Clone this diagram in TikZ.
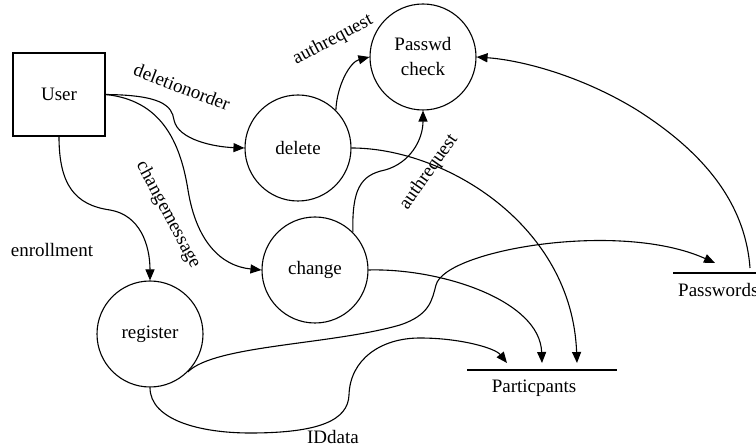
\documentclass[tikz,border=0pt]{standalone}
\usepackage{fontspec}
\setmainfont{Liberation Serif}
\usetikzlibrary{arrows.meta}
\begin{document}
\begin{tikzpicture}[x=1pt,y=-1pt,
  every node/.style={font=\fontsize{19}{25}\selectfont},
  proc/.style={draw, circle, minimum size=106pt, inner sep=0pt, line width=1.1pt},
  ent/.style={draw, rectangle, minimum width=92pt, minimum height=83pt, line width=1.1pt},
  flow/.style={line width=1.1pt, -{Triangle[length=11pt,width=9pt]}},
  store/.style={line width=1.1pt},
  lbl/.style={inner sep=1pt}]
\useasboundingbox (0,0) rectangle (756,446);
% nodes
\node[ent] (user) at (59,94.5) {User};
\node[proc] (delete) at (298,148) {delete};
\node[proc,align=center] (check) at (423,57) {Passwd\\check};
\node[proc] (change) at (315,270) {change};
\node[proc] (register) at (150,334) {register};
% data stores
\coordinate (partL) at (467,370);
\coordinate (partR) at (617,370);
\draw[store] (partL) -- (partR);
\node[lbl] (partlbl) at (534,388) {Particpants};
\coordinate (pwL) at (673,273);
\coordinate (pwR) at (760,273);
\draw[store] (pwL) -- (pwR);
\node[lbl,anchor=west] (pwlbl) at (677,290) {Passwords};
% free ends
\coordinate (p1) at (507,363);
\coordinate (p2) at (542,363);
\coordinate (p3) at (577,363);
\coordinate (pwin) at (715,263);
\coordinate (pwout) at (750,268);
% flows
\draw[flow] (user.east) .. controls (160,95) and (172,105) .. (174,120) .. controls (178,140) and (215,147) .. (delete.west);
\draw[flow] (user.east) .. controls (160,100) and (180,140) .. (188,190) .. controls (196,240) and (220,266) .. (change.west);
\draw[flow] (user.south) .. controls (59,185) and (75,205) .. (110,210) .. controls (140,215) and (150,245) .. (register.north);
\draw[flow] (delete.45) .. controls (337,85) and (350,62) .. (check.west);
\draw[flow] (change.45) .. controls (352,190) and (360,175) .. (385,170) .. controls (410,163) and (423,140) .. (check.south);
\draw[flow] (delete.east) .. controls (445,148) and (572,225) .. (p3);
\draw[flow] (change.east) .. controls (440,268) and (540,300) .. (p2);
\draw[flow] (register.-45) .. controls (215,345) and (330,345) .. (400,325) .. controls (430,315) and (432,300) .. (436,285) .. controls (445,250) and (620,220) .. (pwin);
\draw[flow] (register.south) .. controls (150,420) and (200,433) .. (250,433) .. controls (320,433) and (348,420) .. (349,395) .. controls (350,360) and (380,338) .. (420,338) .. controls (460,338) and (495,348) .. (p1);
\draw[flow] (pwout) .. controls (745,200) and (700,150) .. (637,110) .. controls (580,75) and (520,60) .. (check.east);
% labels
\node[lbl,rotate=-21] (l1) at (182,87) {deletionorder};
\node[lbl,rotate=-62] (l2) at (168,215) {changemessage};
\node[lbl,rotate=28] (l3) at (333,40) {authrequest};
\node[lbl,rotate=55] (l4) at (429,172) {authrequest};
\node[lbl] (l5) at (52,250) {enrollment};
\node[lbl] (l6) at (333,437) {IDdata};
\end{tikzpicture}
\end{document}
